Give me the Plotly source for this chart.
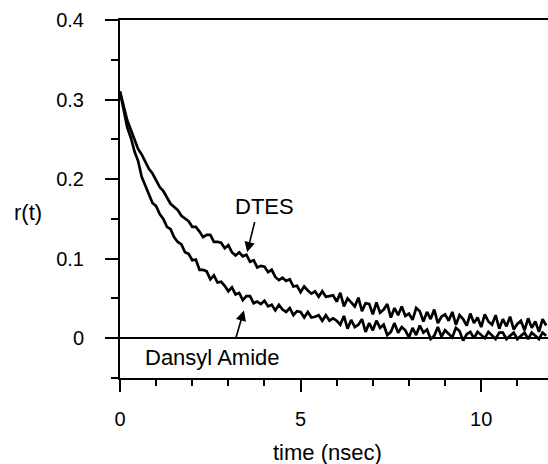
import plotly.graph_objects as go

# time grid (ns), sampled every 0.1 ns
time_ns = [round(i * 0.1, 1) for i in range(119)]

dtes = [
    0.310, 0.293, 0.274, 0.262, 0.251, 0.238, 0.231, 0.222, 0.213, 0.207,
    0.198, 0.190, 0.185, 0.177, 0.169, 0.165, 0.161, 0.154, 0.151, 0.147,
    0.140, 0.140, 0.134, 0.127, 0.130, 0.130, 0.121, 0.121, 0.120, 0.113,
    0.117, 0.108, 0.104, 0.108, 0.103, 0.105, 0.096, 0.098, 0.089, 0.091,
    0.090, 0.083, 0.086, 0.077, 0.073, 0.076, 0.072, 0.074, 0.065, 0.066,
    0.058, 0.065, 0.060, 0.056, 0.059, 0.052, 0.059, 0.052, 0.053, 0.054,
    0.046, 0.057, 0.040, 0.050, 0.045, 0.040, 0.051, 0.034, 0.044, 0.043,
    0.030, 0.045, 0.032, 0.036, 0.043, 0.026, 0.038, 0.029, 0.040, 0.028,
    0.031, 0.023, 0.038, 0.034, 0.021, 0.033, 0.024, 0.036, 0.019, 0.027,
    0.030, 0.022, 0.033, 0.017, 0.029, 0.024, 0.016, 0.031, 0.019, 0.026,
    0.014, 0.030, 0.021, 0.017, 0.029, 0.012, 0.024, 0.015, 0.027, 0.011,
    0.018, 0.022, 0.010, 0.025, 0.013, 0.021, 0.008, 0.024, 0.016,
]

dansyl_amide = [
    0.310, 0.289, 0.265, 0.252, 0.235, 0.223, 0.203, 0.192, 0.181, 0.170,
    0.166, 0.156, 0.150, 0.140, 0.137, 0.127, 0.121, 0.118, 0.108, 0.106,
    0.098, 0.099, 0.086, 0.086, 0.084, 0.074, 0.079, 0.070, 0.071, 0.066,
    0.059, 0.064, 0.055, 0.057, 0.048, 0.053, 0.053, 0.044, 0.046, 0.043,
    0.047, 0.040, 0.042, 0.035, 0.042, 0.036, 0.033, 0.038, 0.029, 0.034,
    0.033, 0.026, 0.033, 0.026, 0.027, 0.029, 0.022, 0.029, 0.022, 0.025,
    0.022, 0.017, 0.028, 0.012, 0.023, 0.014, 0.017, 0.024, 0.008, 0.019,
    0.010, 0.022, 0.013, 0.017, 0.004, 0.008, 0.019, 0.007, 0.014, 0.010,
    0.001, 0.013, 0.004, 0.016, 0.007, 0.011, -0.001, 0.003, 0.014, 0.002,
    0.010, 0.006, 0.001, 0.013, 0.009, -0.003, 0.005, 0.008, 0.000, 0.008,
    0.004, 0.000, 0.008, 0.004, -0.001, 0.007, 0.007, -0.001, 0.003, 0.007,
    -0.001, 0.003, 0.007, -0.001, 0.007, 0.003, -0.001, 0.007, 0.003,
]

x_ticks = [0, 5, 10]
y_ticks = [0, 0.1, 0.2, 0.3, 0.4]
y_tick_labels = ["0", "0.1", "0.2", "0.3", "0.4"]

FONT = "Liberation Sans, Arial, Helvetica, sans-serif"

fig = go.Figure()
for name, vals in [("DTES", dtes), ("Dansyl Amide", dansyl_amide)]:
    fig.add_trace(go.Scatter(
        x=time_ns, y=vals, mode="lines", name=name,
        line=dict(color="black", width=2.7), showlegend=False,
    ))

fig.update_layout(
    width=548, height=464,
    margin=dict(l=120, r=0, t=20, b=86),
    paper_bgcolor="white", plot_bgcolor="white",
    font=dict(family=FONT, color="black", size=20),
    xaxis=dict(
        range=[0, 11.85], tickvals=x_ticks, ticks="outside", ticklen=12,
        tickwidth=2, tickcolor="black", showline=True, linecolor="black",
        linewidth=2, mirror=True, showgrid=False, zeroline=False,
        ticklabelstandoff=10, tickfont=dict(size=20),
        minor=dict(dtick=1, tick0=0, ticks="outside", ticklen=6,
                   tickwidth=2, tickcolor="black", showgrid=False),
    ),
    yaxis=dict(
        range=[-0.05, 0.4], tickvals=y_ticks, ticktext=y_tick_labels,
        ticks="outside", ticklen=13, tickwidth=2, tickcolor="black",
        showline=True, linecolor="black", linewidth=2, showgrid=False,
        zeroline=True, zerolinecolor="black", zerolinewidth=2,
        ticklabelstandoff=17, tickfont=dict(size=20),
        minor=dict(dtick=0.05, tick0=0, ticks="outside", ticklen=7,
                   tickwidth=2, tickcolor="black", showgrid=False),
    ),
    annotations=[
        dict(text="r(t)", xref="paper", yref="paper", x=-0.215, y=0.461,
             showarrow=False, font=dict(size=22), xanchor="center", yanchor="middle"),
        dict(text="time (nsec)", xref="paper", yref="paper", x=0.484, y=-0.207,
             showarrow=False, font=dict(size=22), xanchor="center", yanchor="middle"),
        dict(text="DTES", x=3.99, y=0.166, showarrow=False, font=dict(size=22),
             xanchor="center", yanchor="middle"),
        dict(text="Dansyl Amide", x=2.55, y=-0.024, showarrow=False, font=dict(size=22),
             xanchor="center", yanchor="middle"),
        dict(text="", x=3.52, y=0.108, ax=3.74, ay=0.148, axref="x", ayref="y",
             showarrow=True, arrowhead=2, arrowsize=1.3, arrowwidth=1.6, arrowcolor="black"),
        dict(text="", x=3.43, y=0.035, ax=3.19, ay=-0.0025, axref="x", ayref="y",
             showarrow=True, arrowhead=2, arrowsize=1.3, arrowwidth=1.6, arrowcolor="black"),
    ],
)

fig.write_html("out.html")
